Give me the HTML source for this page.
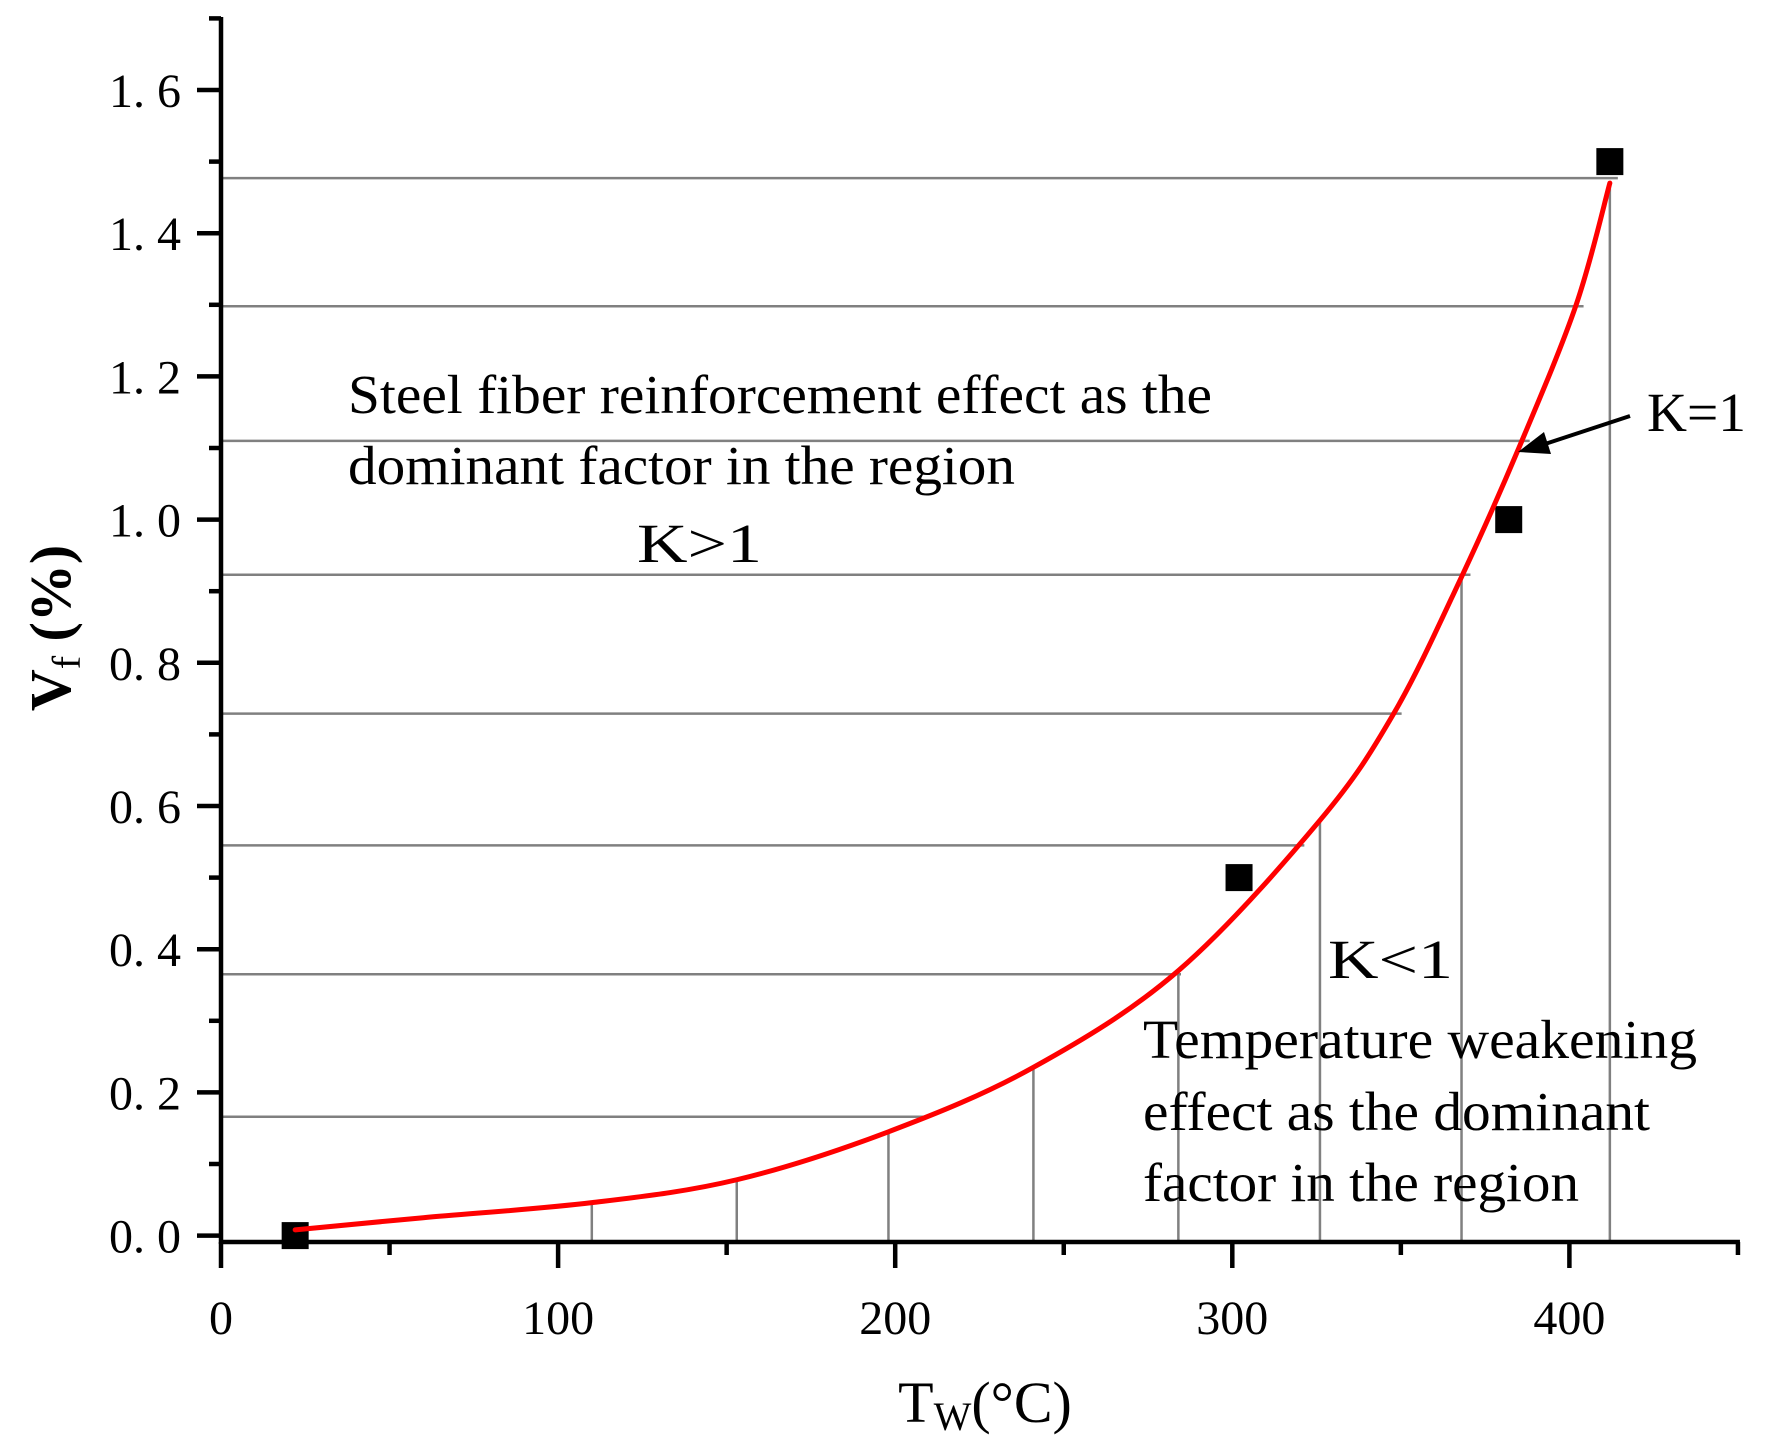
<!DOCTYPE html>
<html><head><meta charset="utf-8"><style>
html,body{margin:0;padding:0;background:#fff;}
svg{display:block;font-family:"Liberation Serif","Noto Serif CJK SC",serif;}
</style></head><body>
<svg id="chart" width="1774" height="1452" viewBox="0 0 1774 1452">
<g id="grid"></g>
<g id="axes"></g>
<g id="series"></g>
<g font-size="55" fill="#000">
<text x="348" y="413" textLength="864" lengthAdjust="spacingAndGlyphs">Steel fiber reinforcement effect as the</text>
<text x="348" y="484" textLength="667" lengthAdjust="spacingAndGlyphs">dominant factor in the region</text>
<text x="637" y="562" textLength="125" lengthAdjust="spacingAndGlyphs">K&gt;1</text>
<text x="1647" y="431" textLength="99" lengthAdjust="spacingAndGlyphs">K=1</text>
<text x="1328" y="978" textLength="125" lengthAdjust="spacingAndGlyphs">K&lt;1</text>
<text x="1143" y="1058" textLength="554" lengthAdjust="spacingAndGlyphs">Temperature weakening</text>
<text x="1143" y="1130" textLength="507" lengthAdjust="spacingAndGlyphs">effect as the dominant</text>
<text x="1143" y="1201" textLength="436" lengthAdjust="spacingAndGlyphs">factor in the region</text>
<line x1="1630" y1="416" x2="1545" y2="444" stroke="#000" stroke-width="4"/>
<polygon points="1518,452 1544,432 1551,454" fill="#000"/>
</g>
<text x="985" y="1422" font-size="58" text-anchor="middle">T<tspan font-size="40" dy="8">W</tspan><tspan dy="-8">(°C)</tspan></text>
<text transform="translate(70,628) rotate(-90)" font-size="58" text-anchor="middle"><tspan font-weight="bold">V</tspan><tspan font-size="40" dy="10">f</tspan><tspan dy="-10" font-weight="bold"> (%)</tspan></text>
</svg>
<script>
const pointX=[22,302,382,412];
const pointY=[0,0.5,1.0,1.5];
const curveX=[22,60,110,153,198,241,284,326,348,368,385,402,412];
const curveY=[0.008,0.025,0.046,0.078,0.145,0.235,0.37,0.58,0.73,0.92,1.10,1.30,1.47];
const guideX=[110,153,198,241,284,326,368,412];
const guideY=[0.166,0.365,0.545,0.729,0.923,1.110,1.298,1.477];
const xTicks=[0,100,200,300,400];
const yTicks=["0. 0","0. 2","0. 4","0. 6","0. 8","1. 0","1. 2","1. 4","1. 6"];
const yTickVals=[0,0.2,0.4,0.6,0.8,1.0,1.2,1.4,1.6];

const NS="http://www.w3.org/2000/svg";
const X=v=>221+v*3.371;
const Y=v=>90+(1.6-v)*716;
const axisY=1242;
function mk(tag,attrs,parent){const e=document.createElementNS(NS,tag);for(const k in attrs)e.setAttribute(k,attrs[k]);parent.appendChild(e);return e;}
function interpX(v){for(let i=0;i<curveY.length-1;i++){if(v>=curveY[i]&&v<=curveY[i+1]){const t=(v-curveY[i])/(curveY[i+1]-curveY[i]);return curveX[i]+t*(curveX[i+1]-curveX[i]);}}return curveX[curveX.length-1];}
function interpY(v){for(let i=0;i<curveX.length-1;i++){if(v>=curveX[i]&&v<=curveX[i+1]){const t=(v-curveX[i])/(curveX[i+1]-curveX[i]);return curveY[i]+t*(curveY[i+1]-curveY[i]);}}return curveY[curveY.length-1];}
const grid=document.getElementById('grid'),axes=document.getElementById('axes'),series=document.getElementById('series');
guideY.forEach(v=>{
 const l=mk('line',{x1:X(0),x2:X(interpX(v))+8,y1:Y(v),y2:Y(v),stroke:'#808080','stroke-width':2.5},grid);
 
 
});
guideX.forEach(v=>{
 const l=mk('line',{x1:X(v),x2:X(v),y1:axisY,y2:Y(interpY(v)),stroke:'#808080','stroke-width':2.5},grid);
 
 
});
let a=mk('line',{x1:X(0),x2:X(0),y1:17,y2:axisY+2,stroke:'#000','stroke-width':4.5},axes);

a=mk('line',{x1:X(0)-2,x2:X(450)+2,y1:axisY,y2:axisY,stroke:'#000','stroke-width':4.5},axes);

for(let i=0;i<=17;i++){const v=i/10;const major=i%2===0;
 const t=mk('line',{x1:X(0)-(major?24:12),x2:X(0),y1:Y(v),y2:Y(v),stroke:'#000','stroke-width':4.5},axes);
 }
yTickVals.forEach((v,i)=>{const t=mk('text',{x:181,y:Y(v)+17,'font-size':48,'text-anchor':'end'},axes);t.textContent=yTicks[i];
 });
for(let v=0;v<=450;v+=50){const major=v%100===0;
 const t=mk('line',{x1:X(v),x2:X(v),y1:axisY,y2:axisY+(major?26:13),stroke:'#000','stroke-width':4.5},axes);
 }
xTicks.forEach(v=>{const t=mk('text',{x:X(v),y:1334,'font-size':48,'text-anchor':'middle'},axes);t.textContent=String(v);
 });
const P=curveX.map((x,i)=>[X(x),Y(curveY[i])]);
let d='M'+P[0][0]+','+P[0][1];
for(let i=0;i<P.length-1;i++){const p0=P[Math.max(0,i-1)],p1=P[i],p2=P[i+1],p3=P[Math.min(P.length-1,i+2)];
 d+=' C'+(p1[0]+(p2[0]-p0[0])/6)+','+(p1[1]+(p2[1]-p0[1])/6)+' '+(p2[0]-(p3[0]-p1[0])/6)+','+(p2[1]-(p3[1]-p1[1])/6)+' '+p2[0]+','+p2[1];}
pointX.forEach((x,i)=>{const s=27;
 const r=mk('rect',{x:X(x)-s/2,y:Y(pointY[i])-s/2,width:s,height:s,fill:'#000'},series);
 });
const c=mk('path',{d:d,fill:'none',stroke:'#ff0000','stroke-width':5,'stroke-linecap':'round'},series);


</script>
</body></html>
